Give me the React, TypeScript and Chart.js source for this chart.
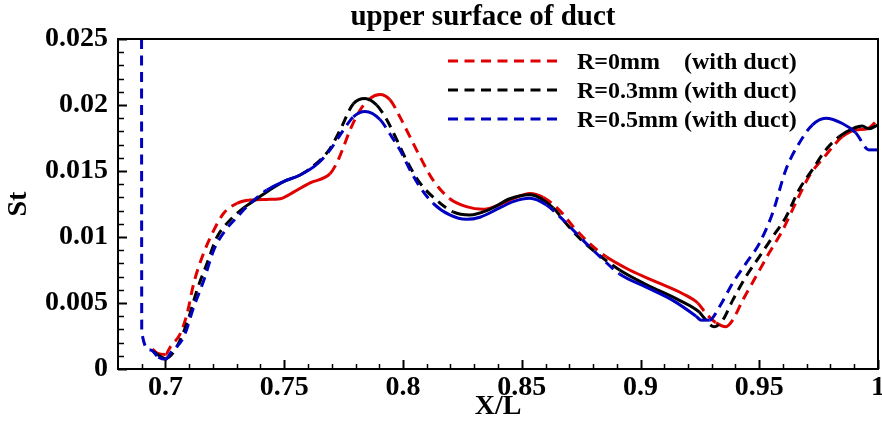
import React, { useEffect, useRef } from "react";
import { Chart, registerables } from "chart.js";

Chart.register(...registerables);

// ---- data ----
const seriesNames = ["R=0mm    (with duct)", "R=0.3mm (with duct)", "R=0.5mm (with duct)"];
const seriesColors = ["#e00000", "#000000", "#0000c0"];

const redX = [0.6945, 0.6965, 0.7, 0.7021, 0.7063, 0.7091, 0.7119, 0.7161, 0.7203, 0.7245, 0.7301, 0.7357, 0.7427, 0.7483, 0.7539, 0.7609, 0.7693, 0.7721, 0.7749, 0.7777, 0.7819, 0.7861, 0.7903, 0.7945, 0.7987, 0.8029, 0.8071, 0.8127, 0.8197, 0.8267, 0.8337, 0.8393, 0.8464, 0.8534, 0.859, 0.866, 0.8716, 0.8786, 0.8856, 0.8954, 0.9066, 0.9178, 0.9241, 0.9276, 0.9318, 0.936, 0.9388, 0.943, 0.9486, 0.9542, 0.9598, 0.9654, 0.971, 0.978, 0.985, 0.9906, 0.9955, 1.0];
const redY = [0.0015, 0.0012, 0.0011, 0.0017, 0.0027, 0.0042, 0.0065, 0.0088, 0.0105, 0.0118, 0.01255, 0.0128, 0.01285, 0.0129, 0.0134, 0.0141, 0.0148, 0.0156, 0.0168, 0.0181, 0.0196, 0.0205, 0.0208, 0.0204, 0.0191, 0.0176, 0.0161, 0.0143, 0.0129, 0.0123, 0.0121, 0.01235, 0.0129, 0.0133, 0.013, 0.012, 0.0108, 0.0095, 0.0085, 0.0075, 0.0066, 0.0057, 0.005, 0.0042, 0.0035, 0.0032, 0.0037, 0.0052, 0.007, 0.0088, 0.0105, 0.0126, 0.0146, 0.0162, 0.0176, 0.0181, 0.0182, 0.0189];

const blackX = [0.695, 0.7, 0.7035, 0.7091, 0.7133, 0.7175, 0.7217, 0.7273, 0.7329, 0.7385, 0.745, 0.7497, 0.7567, 0.7637, 0.7693, 0.7735, 0.7791, 0.784, 0.7889, 0.7931, 0.7973, 0.8015, 0.8071, 0.8141, 0.8211, 0.8281, 0.8365, 0.845, 0.8534, 0.8632, 0.8688, 0.8744, 0.8814, 0.8912, 0.9024, 0.9164, 0.9248, 0.9262, 0.9311, 0.9346, 0.9388, 0.9444, 0.95, 0.9556, 0.9612, 0.9668, 0.9724, 0.978, 0.9836, 0.9892, 0.9934, 0.9962, 1.0];
const blackY = [0.0013, 0.0008, 0.0013, 0.0035, 0.006, 0.008, 0.01, 0.0113, 0.0122, 0.0129, 0.0137, 0.0142, 0.0147, 0.0156, 0.0167, 0.0181, 0.0201, 0.0205, 0.02, 0.0189, 0.0174, 0.0158, 0.0141, 0.0128, 0.0119, 0.01167, 0.0121, 0.0129, 0.0132, 0.0122, 0.011, 0.0099, 0.0088, 0.0075, 0.0064, 0.0052, 0.0043, 0.004, 0.0032, 0.0037, 0.0052, 0.007, 0.0085, 0.01, 0.0115, 0.0136, 0.0151, 0.0166, 0.0176, 0.0182, 0.0184, 0.0182, 0.0185];

const blueX = [0.6899, 0.69, 0.6937, 0.697, 0.7, 0.7021, 0.7077, 0.7119, 0.7161, 0.7203, 0.7252, 0.7301, 0.7357, 0.7427, 0.7497, 0.7567, 0.7637, 0.7693, 0.7749, 0.7791, 0.784, 0.7903, 0.7945, 0.7987, 0.8029, 0.8071, 0.8127, 0.8197, 0.8267, 0.8324, 0.8407, 0.8464, 0.8534, 0.8604, 0.866, 0.8716, 0.8772, 0.8842, 0.8912, 0.9024, 0.9136, 0.9234, 0.9255, 0.929, 0.9332, 0.9388, 0.9444, 0.95, 0.9556, 0.9612, 0.9668, 0.9724, 0.978, 0.985, 0.9906, 0.9962, 1.0];
const blueY = [0.03, 0.0028, 0.00144, 0.0009, 0.00073, 0.0012, 0.00245, 0.0047, 0.0067, 0.009, 0.0105, 0.0115, 0.01255, 0.01356, 0.0142, 0.0147, 0.0155, 0.0166, 0.0181, 0.0191, 0.0195, 0.0189, 0.0178, 0.0166, 0.0151, 0.0138, 0.01255, 0.01167, 0.01134, 0.0115, 0.0122, 0.01268, 0.01293, 0.01242, 0.01154, 0.01053, 0.0095, 0.0083, 0.0072, 0.0062, 0.0052, 0.004, 0.0037, 0.0037, 0.0047, 0.0065, 0.008, 0.0095, 0.0118, 0.0151, 0.0171, 0.0185, 0.019, 0.0186, 0.0179, 0.0166, 0.0166];

const xTickValues = [0.7, 0.75, 0.8, 0.85, 0.9, 0.95, 1];
const yTickValues = [0, 0.005, 0.01, 0.015, 0.02, 0.025];
const titleText = "upper surface of duct";
const xTitle = "X/L";
const yTitle = "St";

const FONT = "'Liberation Serif', 'Times New Roman', serif";
const DASH = [10, 6.5];

const toPoints = (xs: number[], ys: number[]) => xs.map((x, i) => ({ x, y: ys[i] }));

const decorPlugin = {
  id: "decor",
  afterDatasetsDraw(chart: any) {
    const { ctx, chartArea } = chart;
    const xs = chart.scales.x;
    const ys = chart.scales.y;
    ctx.save();
    ctx.strokeStyle = "#000";
    ctx.lineWidth = 2;
    ctx.setLineDash([]);
    ctx.strokeRect(chartArea.left, chartArea.top, chartArea.right - chartArea.left, chartArea.bottom - chartArea.top);
    for (let i = 69; i <= 100; i++) {
      const v = i / 100;
      const major = i % 5 === 0;
      const px = Math.round(xs.getPixelForValue(v)) + 0.5;
      ctx.lineWidth = major ? 2 : 1.5;
      ctx.beginPath();
      ctx.moveTo(px, chartArea.bottom);
      ctx.lineTo(px, chartArea.bottom - (major ? 9 : 5));
      ctx.stroke();
    }
    for (let i = 0; i <= 25; i++) {
      const v = i / 1000;
      const major = i % 5 === 0;
      const py = Math.round(ys.getPixelForValue(v)) + 0.5;
      ctx.lineWidth = major ? 2 : 1.5;
      ctx.beginPath();
      ctx.moveTo(chartArea.left, py);
      ctx.lineTo(chartArea.left + (major ? 9 : 6), py);
      ctx.stroke();
    }
    ctx.restore();
  },
  afterDraw(chart: any) {
    const { ctx } = chart;
    ctx.save();
    ctx.fillStyle = "#000";
    ctx.font = `bold 29px ${FONT}`;
    ctx.textAlign = "center";
    ctx.textBaseline = "alphabetic";
    ctx.fillText(titleText, 483, 25);
    const ys = [61, 90, 119];
    chart.data.datasets.forEach((ds: any, i: number) => {
      ctx.strokeStyle = ds.borderColor;
      ctx.lineWidth = 3;
      ctx.setLineDash(DASH);
      ctx.beginPath();
      ctx.moveTo(448, ys[i]);
      ctx.lineTo(558, ys[i]);
      ctx.stroke();
      ctx.setLineDash([]);
      ctx.fillStyle = "#000";
      ctx.font = `bold 24px ${FONT}`;
      ctx.textAlign = "left";
      ctx.textBaseline = "alphabetic";
      ctx.fillText(ds.label, 577, ys[i] + 7.5);
    });
    ctx.restore();
  },
};

export default function App() {
  const ref = useRef<HTMLCanvasElement | null>(null);
  useEffect(() => {
    if (!ref.current) return;
    const xsAll = [redX, blackX, blueX];
    const ysAll = [redY, blackY, blueY];
    const chart = new Chart(ref.current, {
      type: "line",
      data: {
        datasets: seriesNames.map((name, i) => ({
          label: name,
          data: toPoints(xsAll[i], ysAll[i]),
          borderColor: seriesColors[i],
          backgroundColor: seriesColors[i],
          borderWidth: 3,
          borderDash: DASH,
          pointRadius: 0,
          cubicInterpolationMode: "monotone",
          fill: false,
          order: 3 - i,
          segment: {
            borderDash: (c: any) => {
              const dx = Math.abs(c.p1.x - c.p0.x);
              const dy = Math.abs(c.p1.y - c.p0.y);
              return dy > 0.7 * dx ? DASH : [];
            },
          },
        })),
      },
      options: {
        animation: false,
        responsive: false,
        layout: { padding: { top: 39, right: 22, left: 0, bottom: 0 } },
        plugins: { legend: { display: false }, title: { display: false }, tooltip: { enabled: false } },
        scales: {
          x: {
            type: "linear",
            min: 0.68,
            max: 1.0,
            afterBuildTicks: (s: any) => {
              s.ticks = xTickValues.map((v) => ({ value: v }));
            },
            afterFit: (s: any) => {
              s.height = 52;
            },
            grid: { display: false, drawTicks: false },
            border: { display: true, color: "#000", width: 2 },
            ticks: {
              color: "#000",
              font: { family: FONT, size: 28, weight: "bold" },
              padding: 2,
              maxRotation: 0,
              autoSkip: false,
              callback: (v: any) => String(v),
            },
            title: {
              display: true,
              text: xTitle,
              color: "#000",
              font: { family: FONT, size: 28, weight: "bold", lineHeight: 1 },
              padding: { top: 0, bottom: 0 },
            },
          },
          y: {
            type: "linear",
            min: 0,
            max: 0.025,
            afterBuildTicks: (s: any) => {
              s.ticks = yTickValues.map((v) => ({ value: v }));
            },
            afterFit: (s: any) => {
              s.width = 118;
            },
            grid: { display: false, drawTicks: false },
            border: { display: true, color: "#000", width: 2 },
            ticks: {
              color: "#000",
              font: { family: FONT, size: 28, weight: "bold" },
              padding: 10,
              callback: (v: any) => String(v),
            },
            title: {
              display: true,
              text: yTitle,
              color: "#000",
              font: { family: FONT, size: 28, weight: "bold", lineHeight: 1 },
              padding: { top: 5, bottom: 0 },
            },
          },
        },
      },
      plugins: [decorPlugin],
    } as any);
    return () => chart.destroy();
  }, []);
  return (
    <div style={{ position: "fixed", left: 0, top: 0, width: 882, height: 421, overflow: "hidden", background: "#fff" }}>
      <canvas ref={ref} width={900} height={421} style={{ display: "block", width: 900, height: 421 }} />
    </div>
  );
}
